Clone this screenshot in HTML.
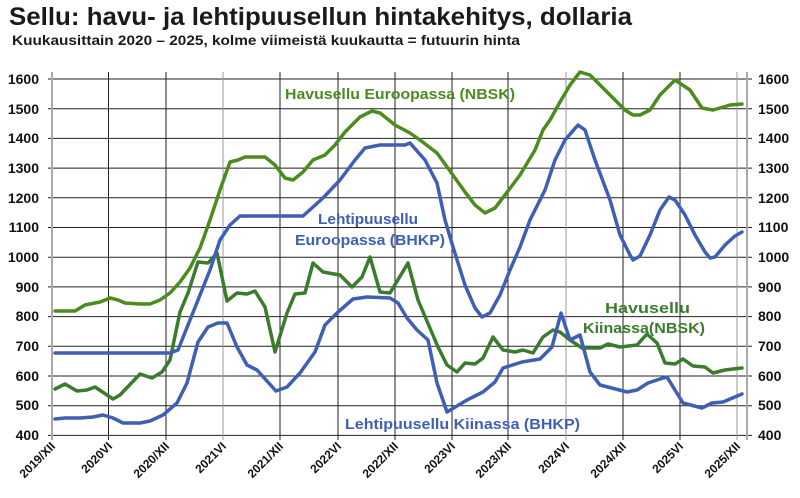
<!DOCTYPE html>
<html><head><meta charset="utf-8"><style>
body{margin:0;background:#fff;width:800px;height:498px;overflow:hidden}
svg{display:block;font-family:"Liberation Sans",Arial,sans-serif;font-weight:bold}
</style></head><body>
<svg width="800" height="498" viewBox="0 0 800 498" xmlns="http://www.w3.org/2000/svg">
<text x="9" y="25" font-size="25" fill="#1a1a1a" textLength="623" lengthAdjust="spacingAndGlyphs">Sellu: havu- ja lehtipuusellun hintakehitys, dollaria</text>
<text x="12" y="45" font-size="14" fill="#1a1a1a" textLength="508" lengthAdjust="spacingAndGlyphs">Kuukausittain 2020 – 2025, kolme viimeistä kuukautta = futuurin hinta</text>
<g stroke="#222" stroke-width="1">
<line x1="48" y1="79" x2="752" y2="79"/><line x1="48" y1="108.7" x2="752" y2="108.7"/>
<line x1="48" y1="138.4" x2="752" y2="138.4"/><line x1="48" y1="168.1" x2="752" y2="168.1"/>
<line x1="48" y1="197.8" x2="752" y2="197.8"/><line x1="48" y1="227.5" x2="752" y2="227.5"/>
<line x1="48" y1="257.2" x2="752" y2="257.2"/><line x1="48" y1="286.9" x2="752" y2="286.9"/>
<line x1="48" y1="316.6" x2="752" y2="316.6"/><line x1="48" y1="346.3" x2="752" y2="346.3"/>
<line x1="48" y1="376" x2="752" y2="376"/><line x1="48" y1="405.7" x2="752" y2="405.7"/>
<line x1="48" y1="435.4" x2="752" y2="435.4"/>
<line x1="108.5" y1="72" x2="108.5" y2="440"/><line x1="166" y1="72" x2="166" y2="440"/>
<line x1="223" y1="72" x2="223" y2="440" stroke="#999"/><line x1="280" y1="72" x2="280" y2="440"/>
<line x1="338" y1="72" x2="338" y2="440"/><line x1="395" y1="72" x2="395" y2="440"/>
<line x1="452" y1="72" x2="452" y2="440"/><line x1="508" y1="72" x2="508" y2="440"/>
<line x1="566" y1="72" x2="566" y2="440" stroke="#999"/><line x1="623" y1="72" x2="623" y2="440"/>
<line x1="680" y1="72" x2="680" y2="440"/><line x1="737" y1="72" x2="737" y2="440" stroke="#999"/>
</g>
<line x1="52" y1="72" x2="52" y2="440" stroke="#aaa" stroke-width="2"/>
<line x1="747" y1="72" x2="747" y2="440" stroke="#aaa" stroke-width="2"/>
<g font-size="14" fill="#111" text-anchor="end">
<text x="39" y="84">1600</text><text x="39" y="114">1500</text><text x="39" y="143">1400</text>
<text x="39" y="173">1300</text><text x="39" y="203">1200</text><text x="39" y="232">1100</text>
<text x="39" y="262">1000</text><text x="39" y="292">900</text><text x="39" y="321">800</text>
<text x="39" y="351">700</text><text x="39" y="381">600</text><text x="39" y="410">500</text>
<text x="39" y="440">400</text>
</g>
<g font-size="14" fill="#111">
<text x="758" y="84">1600</text><text x="758" y="114">1500</text><text x="758" y="143">1400</text>
<text x="758" y="173">1300</text><text x="758" y="203">1200</text><text x="758" y="232">1100</text>
<text x="758" y="262">1000</text><text x="758" y="292">900</text><text x="758" y="321">800</text>
<text x="758" y="351">700</text><text x="758" y="381">600</text><text x="758" y="410">500</text>
<text x="758" y="440">400</text>
</g>
<g font-size="12" fill="#111" text-anchor="end">
<text transform="translate(56,447) rotate(-45)">2019/XII</text>
<text transform="translate(113,447) rotate(-45)">2020VI</text>
<text transform="translate(170,447) rotate(-45)">2020/XII</text>
<text transform="translate(227,447) rotate(-45)">2021VI</text>
<text transform="translate(284,447) rotate(-45)">2021/XII</text>
<text transform="translate(342,447) rotate(-45)">2022VI</text>
<text transform="translate(399,447) rotate(-45)">2022/XII</text>
<text transform="translate(456,447) rotate(-45)">2023VI</text>
<text transform="translate(512,447) rotate(-45)">2023/XII</text>
<text transform="translate(570,447) rotate(-45)">2024VI</text>
<text transform="translate(627,447) rotate(-45)">2024/XII</text>
<text transform="translate(684,447) rotate(-45)">2025VI</text>
<text transform="translate(741,447) rotate(-45)">2025/XII</text>
</g>
<g fill="none" stroke-width="3.5" stroke-linejoin="round" stroke-linecap="round">
<polyline stroke="#3c7a2e" points="55,389 65,384 77,391 87,390 95,387 113,399 120,395 140,374 152,378 162,372 170,360 180,312 188,293 198,262 208,263 217,253 227,301 237,293 247,294 255,291 265,307 275,352 287,313 295,294 305,293 313,263 323,272 340,275 352,287 362,277 370,257 380,292 390,293 408,263 418,300 438,347 447,365 457,372 465,363 475,364 483,358 493,337 503,350 515,352 523,350 533,353 543,337 553,330 560,332 570,340 582,348 600,348 608,344 620,347 637,345 647,334 657,343 665,363 675,364 683,359 693,366 705,367 713,373 725,370 733,369 742,368"/>
<polyline stroke="#4c8c1e" points="55,311 75,311 85,305 100,302 110,298 118,300 125,303 140,304 150,304 160,300 170,293 180,282 190,268 200,248 210,220 220,190 230,162 238,160 245,157 265,157 275,165 285,178 293,180 303,172 313,160 325,155 335,145 345,132 360,117 372,111 380,113 395,125 410,133 420,140 437,153 450,171 465,192 475,205 485,213 495,208 505,195 520,175 535,150 543,130 550,120 560,102 570,85 580,72 590,75 600,85 615,100 625,110 633,115 640,115 650,110 660,95 670,85 675,80 690,90 702,108 713,110 720,108 730,105 742,104"/>
<polyline stroke="#3f5fb4" points="55,353 170,353 178,350 190,320 200,295 210,270 220,240 230,225 240,216 303,216 323,198 340,180 355,160 365,148 380,145 405,145 410,143 425,160 437,183 445,220 453,247 465,285 475,308 482,317 490,313 500,295 510,270 520,247 530,220 545,190 555,160 565,140 578,125 585,130 595,160 610,200 620,235 630,255 633,260 640,256 650,235 660,210 669,197 675,200 685,215 695,235 705,252 710,258 715,257 725,245 735,236 742,232"/>
<polyline stroke="#3f5fb4" points="55,419 65,418 80,418 93,417 103,415 113,418 123,423 140,423 150,421 163,415 177,403 187,383 198,342 208,327 218,323 227,323 237,347 247,365 257,370 276,391 287,387 300,373 315,352 325,325 337,313 353,299 367,297 390,298 398,303 407,318 417,330 428,340 437,383 447,412 467,400 483,392 495,382 503,368 522,362 540,359 552,347 561,313 570,340 580,335 590,372 600,385 627,392 637,390 648,383 663,378 667,377 683,403 702,408 712,403 723,402 742,394"/>
</g>
<g font-size="15" lengthAdjust="spacingAndGlyphs">
<text x="285" y="99" fill="#4c8c1e" textLength="230" lengthAdjust="spacingAndGlyphs">Havusellu Euroopassa (NBSK)</text>
<text x="318" y="224" fill="#3f5fb4" textLength="100" lengthAdjust="spacingAndGlyphs">Lehtipuusellu</text>
<text x="295" y="245" fill="#3f5fb4" textLength="150" lengthAdjust="spacingAndGlyphs">Euroopassa (BHKP)</text>
<text x="605" y="313" fill="#3c7a2e" textLength="85" lengthAdjust="spacingAndGlyphs">Havusellu</text>
<text x="583" y="333" fill="#3c7a2e" textLength="122" lengthAdjust="spacingAndGlyphs">Kiinassa(NBSK)</text>
<text x="345" y="429" fill="#3f5fb4" textLength="235" lengthAdjust="spacingAndGlyphs">Lehtipuusellu Kiinassa (BHKP)</text>
</g>
</svg>
</body></html>
